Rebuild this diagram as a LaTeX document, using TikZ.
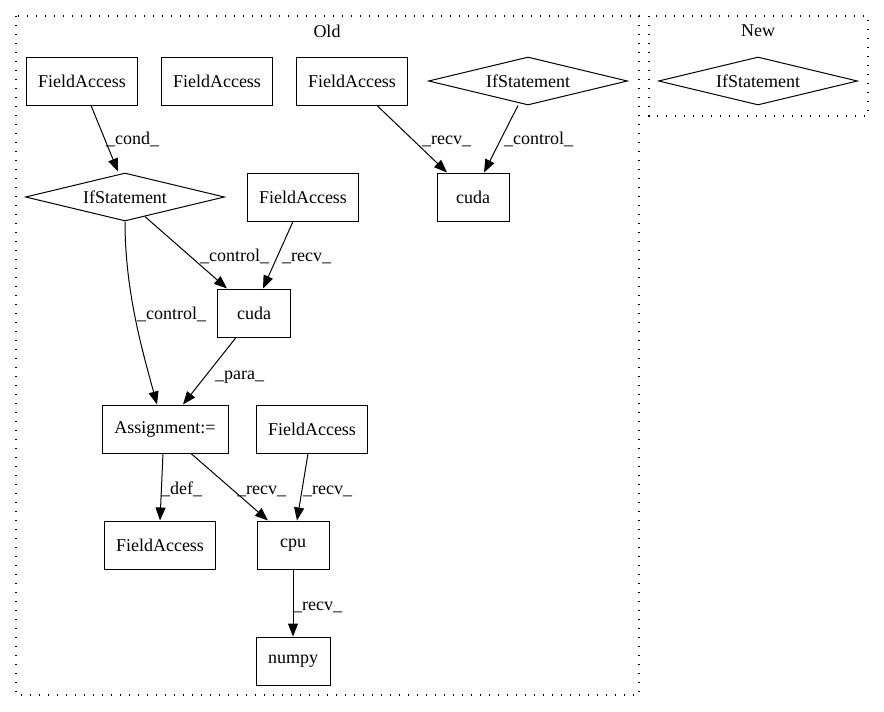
\documentclass[tikz,border=0pt]{standalone}
\usepackage{fontspec}
\setmainfont{Liberation Serif}
\usetikzlibrary{shapes.geometric,arrows.meta,calc}
\begin{document}
\begin{tikzpicture}[x=1pt,y=-1pt,
  every node/.style={font=\fontsize{18}{20}\selectfont},
  box/.style={draw,line width=1pt,rectangle,minimum height=48pt,inner sep=0pt},
  dia/.style={draw,line width=1pt,diamond,aspect=4.1,minimum width=199pt,minimum height=48pt,inner sep=0pt},
  edge/.style={draw,line width=1pt,-{Triangle[length=13pt,width=10pt]}},
  lbl/.style={anchor=base west,inner sep=0pt},
  cluster/.style={draw,line width=1.2pt,dash pattern=on 1.2pt off 7.8pt}]
\useasboundingbox (0,0) rectangle (884,712);
% clusters
\draw[cluster] (16,16) rectangle (639,695);
\draw[cluster] (649,16) rectangle (868,116);
\node (oldlbl) at (327,31) {Old};
\node (newlbl) at (758,31) {New};
% nodes
\node[box,minimum width=111pt] (fa1) at (82,81) {FieldAccess};
\node[box,minimum width=111pt] (fa2) at (217,81) {FieldAccess};
\node[box,minimum width=111pt] (fa3) at (352,81) {FieldAccess};
\node[dia] (iftr) at (528,81) {IfStatement};
\node[dia] (ifnew) at (758,81) {IfStatement};
\node[dia] (ifm) at (125,197) {IfStatement};
\node[box,minimum width=111pt] (fam) at (303,197) {FieldAccess};
\node[box,minimum width=72pt] (cudatr) at (473,197) {cuda};
\node[box,minimum width=73pt] (cudam) at (254,313) {cuda};
\node[box,minimum width=126pt] (asg) at (165,429) {Assignment:=};
\node[box,minimum width=111pt] (far) at (312,429) {FieldAccess};
\node[box,minimum width=111pt] (fab) at (160,545) {FieldAccess};
\node[box,minimum width=72pt] (cpu) at (293,545) {cpu};
\node[box,minimum width=74pt] (numpy) at (293,661) {numpy};
% edges
\draw[edge] ([xshift=9pt]fa1.south) -- ([xshift=-7pt,yshift=1pt]ifm.north);
\draw[edge] ([xshift=25pt]fa3.south) -- ([xshift=-26pt]cudatr.north);
\draw[edge] ([xshift=-10pt]iftr.south) -- ([xshift=11pt]cudatr.north);
\draw[edge] ($(ifm.south)!0.2!(ifm.east)$) -- ([xshift=10pt]cudam.north west);
\draw[edge] ([xshift=-10pt]fam.south) -- ([xshift=9pt]cudam.north);
\draw[edge] (ifm.south) .. controls ($(ifm.south)+(0,69)$) and ($(asg.north)+(-23,-55)$) .. ([xshift=-8pt]asg.north);
\draw[edge] ([xshift=-18pt]cudam.south) -- ([xshift=18pt]asg.north);
\draw[edge] ([xshift=-2pt]asg.south) -- (fab.north);
\draw[edge] ([xshift=26pt]asg.south) -- ([xshift=-25pt]cpu.north);
\draw[edge] ([xshift=-4pt]far.south) -- ([xshift=4pt]cpu.north);
\draw[edge] (cpu.south) -- (numpy.north);
% edge labels
\node[lbl] (l1) at (106,144) {\_cond\_};
\node[lbl] (l2) at (422,144) {\_recv\_};
\node[lbl] (l3) at (504,144) {\_control\_};
\node[lbl] (l4) at (200,261) {\_control\_};
\node[lbl] (l5) at (282,261) {\_recv\_};
\node[lbl] (l6) at (137,319) {\_control\_};
\node[lbl] (l7) at (215,379) {\_para\_};
\node[lbl] (l8) at (161,494) {\_def\_};
\node[lbl] (l9) at (237,494) {\_recv\_};
\node[lbl] (l10) at (303,494) {\_recv\_};
\node[lbl] (l11) at (293,610) {\_recv\_};
\end{tikzpicture}
\end{document}
